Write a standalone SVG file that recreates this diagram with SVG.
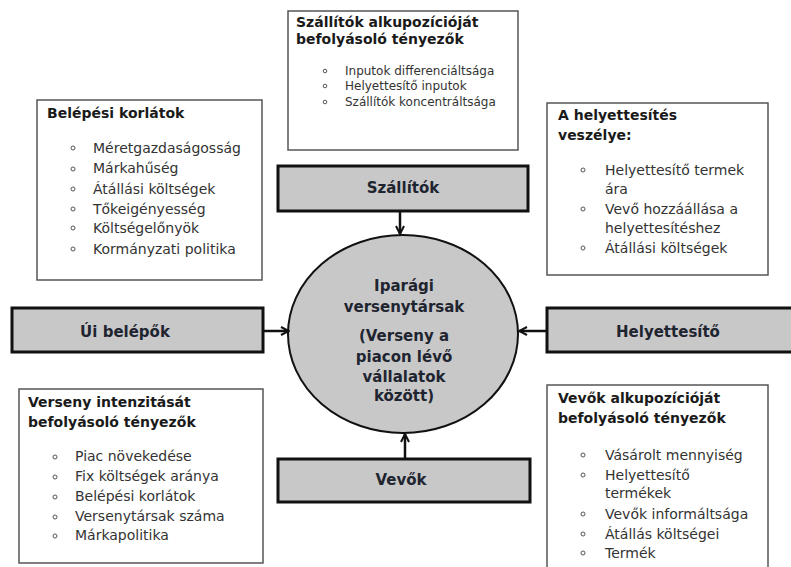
<svg xmlns="http://www.w3.org/2000/svg" width="791" height="567" viewBox="0 0 791 567">
<defs>
<style>
.box{fill:#fff;stroke:#555;stroke-width:1.5}
.bar{fill:#c8c8c8;stroke:#111;stroke-width:3}
.t{font-family:"DejaVu Sans","Verdana",sans-serif;font-size:14px;font-weight:bold;fill:#1a1a1a}
.ts{font-family:"DejaVu Sans","Verdana",sans-serif;font-size:12px;fill:#333}
.tb{font-family:"DejaVu Sans","Verdana",sans-serif;font-size:14px;fill:#333}
.bt{font-family:"DejaVu Sans","Verdana",sans-serif;font-size:15px;font-weight:bold;fill:#1f2530;text-anchor:middle}
.bul{fill:none;stroke:#555;stroke-width:1}
.conn{stroke:#111;stroke-width:2.5;fill:none}
</style>
<marker id="arr" viewBox="0 0 10 10" refX="9" refY="5" markerWidth="4" markerHeight="4" orient="auto" markerUnits="strokeWidth">
<path d="M1,1 L9,5 L1,9" fill="none" stroke="#111" stroke-width="2"/>
</marker>
</defs>

<g id="szallitok-tenyezok">
<rect class="box" x="288" y="11" width="230" height="139"/>
<text class="t" x="296" y="27" font-size="12.5">Szállítók alkupozícióját</text>
<text class="t" x="296" y="44" font-size="12.5">befolyásoló tényezők</text>
<circle class="bul" cx="325" cy="71" r="1.8"/><text class="ts" x="345" y="75">Inputok differenciáltsága</text>
<circle class="bul" cx="325" cy="86" r="1.8"/><text class="ts" x="345" y="90">Helyettesítő inputok</text>
<circle class="bul" cx="325" cy="102" r="1.8"/><text class="ts" x="345" y="106">Szállítók koncentráltsága</text>
</g>

<g id="belepesi-korlatok">
<rect class="box" x="37" y="100" width="225" height="180"/>
<text class="t" x="47" y="118">Belépési korlátok</text>
<circle class="bul" cx="73" cy="148" r="2"/><text class="tb" x="93" y="153">Méretgazdaságosság</text>
<circle class="bul" cx="73" cy="169" r="2"/><text class="tb" x="93" y="173">Márkahűség</text>
<circle class="bul" cx="73" cy="189" r="2"/><text class="tb" x="93" y="194">Átállási költségek</text>
<circle class="bul" cx="73" cy="209" r="2"/><text class="tb" x="93" y="214">Tőkeigényesség</text>
<circle class="bul" cx="73" cy="228" r="2"/><text class="tb" x="93" y="233">Költségelőnyök</text>
<circle class="bul" cx="73" cy="249" r="2"/><text class="tb" x="93" y="254">Kormányzati politika</text>
</g>

<g id="helyettesites-veszelye">
<rect class="box" x="547" y="103" width="221" height="172"/>
<text class="t" x="558" y="120">A helyettesítés</text>
<text class="t" x="558" y="140">veszélye:</text>
<circle class="bul" cx="583" cy="170" r="2"/><text class="tb" x="605" y="175">Helyettesítő termek</text>
<text class="tb" x="605" y="194">ára</text>
<circle class="bul" cx="583" cy="209" r="2"/><text class="tb" x="605" y="214">Vevő hozzáállása a</text>
<text class="tb" x="605" y="233">helyettesítéshez</text>
<circle class="bul" cx="583" cy="248" r="2"/><text class="tb" x="605" y="253">Átállási költségek</text>
</g>

<g id="verseny-intenzitas">
<rect class="box" x="19" y="389" width="244" height="174"/>
<text class="t" x="28" y="407">Verseny intenzitását</text>
<text class="t" x="28" y="427">befolyásoló tényezők</text>
<circle class="bul" cx="55" cy="457" r="2"/><text class="tb" x="75" y="461">Piac növekedése</text>
<circle class="bul" cx="55" cy="477" r="2"/><text class="tb" x="75" y="481">Fix költségek aránya</text>
<circle class="bul" cx="55" cy="497" r="2"/><text class="tb" x="75" y="501">Belépési korlátok</text>
<circle class="bul" cx="55" cy="517" r="2"/><text class="tb" x="75" y="521">Versenytársak száma</text>
<circle class="bul" cx="55" cy="536" r="2"/><text class="tb" x="75" y="540">Márkapolitika</text>
</g>

<g id="vevok-tenyezok">
<rect class="box" x="547" y="385" width="221" height="190"/>
<text class="t" x="558" y="403">Vevők alkupozícióját</text>
<text class="t" x="558" y="423">befolyásoló tényezők</text>
<circle class="bul" cx="583" cy="455" r="2"/><text class="tb" x="605" y="460">Vásárolt mennyiség</text>
<circle class="bul" cx="583" cy="475" r="2"/><text class="tb" x="605" y="480">Helyettesítő</text>
<text class="tb" x="605" y="498">termékek</text>
<circle class="bul" cx="583" cy="514" r="2"/><text class="tb" x="605" y="519">Vevők informáltsága</text>
<circle class="bul" cx="583" cy="534" r="2"/><text class="tb" x="605" y="539">Átállás költségei</text>
<circle class="bul" cx="583" cy="553" r="2"/><text class="tb" x="605" y="558">Termék</text>
</g>

<g id="szallitok">
<rect class="bar" x="278" y="166" width="250" height="45"/>
<text class="bt" x="403" y="193">Szállítók</text>
</g>

<g id="uj-belepok">
<rect class="bar" x="12" y="308" width="251" height="44"/>
<text class="bt" x="125" y="337">Úi belépők</text>
</g>

<g id="helyettesito">
<rect class="bar" x="547" y="308" width="250" height="44"/>
<text class="bt" x="668" y="337">Helyettesítő</text>
</g>

<g id="vevok">
<rect class="bar" x="278" y="459" width="252" height="43"/>
<text class="bt" x="401" y="485">Vevők</text>
</g>

<g id="iparagi-versenytarsak">
<ellipse cx="403" cy="334" rx="115" ry="99" fill="#c8c8c8" stroke="#111" stroke-width="2"/>
<text class="bt" x="404" y="291">Iparági</text>
<text class="bt" x="404" y="312">versenytársak</text>
<text class="bt" x="404" y="341">(Verseny a</text>
<text class="bt" x="404" y="362">piacon lévő</text>
<text class="bt" x="404" y="382">vállalatok</text>
<text class="bt" x="404" y="401">között)</text>
</g>

<g id="connectors">
<line class="conn" x1="400" y1="211" x2="400" y2="234" marker-end="url(#arr)"/>
<line class="conn" x1="405" y1="459" x2="405" y2="434" marker-end="url(#arr)"/>
<line class="conn" x1="263" y1="331" x2="289" y2="331" marker-end="url(#arr)"/>
<line class="conn" x1="547" y1="331" x2="519" y2="331" marker-end="url(#arr)"/>
</g>
</svg>
